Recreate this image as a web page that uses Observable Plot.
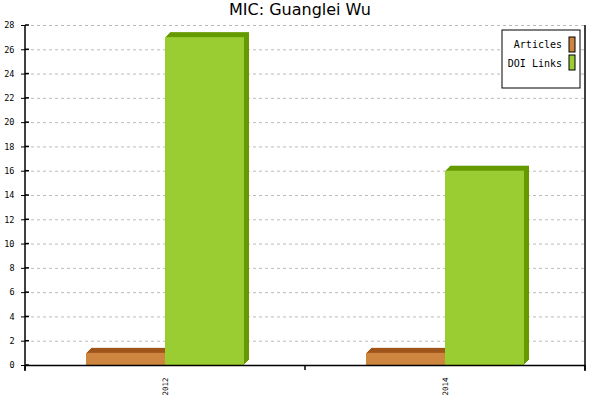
<!DOCTYPE html>
<html><head><meta charset="utf-8">
<script src="https://cdn.jsdelivr.net/npm/d3@7"></script>
<script src="https://cdn.jsdelivr.net/npm/@observablehq/plot@0.6"></script>
<style>
body{margin:0;background:#fff;}
#title{height:20px;line-height:20px;text-align:center;font-family:"DejaVu Sans";font-size:16px;color:#000;}
</style></head><body>
<div id="title">MIC: Guanglei Wu</div>
<div id="chart"></div>
<script>
const years = ["2012", "2014"];
const seriesNames = ["Articles", "DOI Links"];
const articles = [1, 1];
const doiLinks = [27, 16];
const yTicks = d3.range(0, 29, 2);
const frontColors = ["#CD853F", "#9ACD32"];
const darkColors = ["#A0561A", "#669900"];
const depthSteps = [5, 4, 3, 2, 1];

const rows = years.flatMap((yr, i) => [
  {year: yr, series: seriesNames[0], value: articles[i]},
  {year: yr, series: seriesNames[1], value: doiLinks[i]}
]);

const plot = Plot.plot({
  width: 600, height: 380,
  marginTop: 5, marginLeft: 25, marginRight: 15, marginBottom: 35,
  style: {fontFamily: "DejaVu Sans Mono", fontSize: "8.5px", background: "#fff", color: "#000"},
  facet: {data: rows, x: "year"},
  fx: {domain: years, padding: 0, label: null, tickSize: 0, tickPadding: 12, tickRotate: -90},
  x: {domain: seriesNames, paddingInner: 0, paddingOuter: 0.772, axis: null, round: false},
  y: {domain: [0, 28], ticks: yTicks, label: null, tickSize: 4, tickPadding: 7},
  marks: [
    Plot.ruleY(yTicks.filter(d => d > 0), {stroke: "#bbb", strokeDasharray: "3,3"}),
    ...seriesNames.flatMap((s, i) => depthSteps.map(k =>
      Plot.barY(rows, {filter: d => d.series === s, x: "series", y: "value", fill: darkColors[i], dx: k, dy: -k}))),
    ...seriesNames.map((s, i) => Plot.barY(rows, {filter: d => d.series === s, x: "series", y: "value", fill: frontColors[i]})),
    Plot.ruleY([0], {stroke: "#000", strokeWidth: 1.5})
  ]
});
document.getElementById("chart").appendChild(plot);

// axis lines, boundary ticks and legend drawn from the plot's own scales
const svg = d3.select(plot);
const ys = plot.scale("y"), fxs = plot.scale("fx");
const y0 = ys.apply(0), yTop = ys.apply(28);
const bounds = years.map(yr => fxs.apply(yr)).concat([fxs.apply(years[years.length - 1]) + fxs.bandwidth]);
const left = bounds[0], right = bounds[bounds.length - 1];
svg.selectAll('[aria-label^="fx-axis"] text').attr("font-size", "7.5px");
const g = svg.append("g").attr("stroke", "#000").attr("stroke-width", 1.5);
[left, right].forEach(x => g.append("line").attr("x1", x).attr("x2", x).attr("y1", yTop).attr("y2", y0 + 6));
bounds.forEach(x => g.append("line").attr("x1", x).attr("x2", x).attr("y1", y0).attr("y2", y0 + 5));
yTicks.forEach(t => g.append("line").attr("x1", left).attr("x2", left + 4).attr("y1", ys.apply(t)).attr("y2", ys.apply(t)));

const lg = svg.append("g").attr("transform", `translate(${right - 83},${yTop + 5})`);
lg.append("rect").attr("width", 78).attr("height", 58).attr("fill", "#fff").attr("stroke", "#000");
seriesNames.forEach((s, i) => {
  lg.append("text").attr("x", 60).attr("y", 18 + i * 18.5).attr("text-anchor", "end")
    .attr("font-family", "DejaVu Sans Mono").attr("font-size", "10px").attr("fill", "#000").text(s);
  lg.append("rect").attr("x", 67).attr("y", 7 + i * 18).attr("width", 6).attr("height", 15)
    .attr("fill", frontColors[i]).attr("stroke", "#000");
});
</script>
</body></html>
